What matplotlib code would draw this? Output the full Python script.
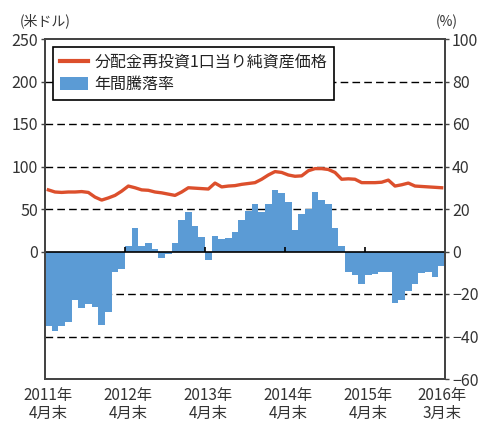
import matplotlib
matplotlib.use("Agg")
import matplotlib.pyplot as plt
from matplotlib.lines import Line2D
from matplotlib.patches import Patch
import numpy as np

plt.rcParams['font.family'] = ['Noto Sans CJK JP', 'DejaVu Sans']

# Monthly data, 2011-04 .. 2016-03 (60 months)
nav_price = [72.5, 70, 69.5, 70, 70, 70.5, 69.5, 64, 60.5, 63, 66, 71,
             77, 75, 72.5, 72, 70, 69, 67.5, 66, 70, 75, 74.5, 74,
             73.5, 80.5, 76, 77, 77.5, 79, 80, 81, 85, 90, 94, 93,
             90, 88.5, 89, 95, 97.5, 97.5, 96.5, 93, 85, 85.5, 85, 81,
             81, 81, 81.5, 84, 77, 78.5, 80.5, 77, 76.5, 76, 75.5, 75]
annual_return = [-35, -37.5, -35, -33, -23, -26.5, -24.5, -26, -34.5, -28.5, -9.5, -8,
                 2.5, 11, 2.5, 3.8, 1, -3, -1, 3.8, 15, 18.5, 12, 7,
                 -3.8, 7.5, 5.8, 6.2, 9, 15, 19, 22.5, 18.6, 22.5, 28.8, 27.6,
                 23.3, 9.9, 17.8, 20, 28, 24.4, 22.5, 11.2, 2.8, -9.8, -10.9, -15.3,
                 -10.9, -10.6, -9.8, -9.8, -24, -23, -18.4, -15.3, -10.2, -9.8, -11.8, -6.6]
xtick_idx = [0, 12, 24, 36, 48, 59]
xtick_labels = ["2011年\n4月末", "2012年\n4月末", "2013年\n4月末",
                "2014年\n4月末", "2015年\n4月末", "2016年\n3月末"]
left_ticks = [0, 50, 100, 150, 200, 250]
right_ticks = [-60, -40, -20, 0, 20, 40, 60, 80, 100]
label_line = "分配金再投資1口当り純資産価格"
label_bar = "年間騰落率"

line_color = "#dc4f2c"
bar_color = "#5b9bd5"
spine_color = "#444444"
text_color = "#333333"

fig = plt.figure(figsize=(4.87, 4.28), dpi=100)
ax = fig.add_axes([45/487, 1-379/428, 400/487, 340/428])
ax2 = ax.twinx()

x = np.arange(len(nav_price))

# right axis: bars + grid
ax2.set_ylim(-60, 100)
for v in right_ticks:
    if v in (-60, 100, 0):
        continue
    ax2.axhline(v, color="black", lw=1.0, ls=(0, (5.5, 3)), zorder=0.5)
ax2.bar(x, annual_return, width=1.0, color=bar_color, zorder=2, linewidth=0)
ax2.axhline(0, color="black", lw=1.2, zorder=3)
ax2.vlines([i - 0.5 for i in xtick_idx[1:-1]], 0, 2, color="black", lw=1.2, zorder=3)
ax2.set_yticks(right_ticks)
ax2.set_yticklabels([f"{v}".replace("-", "\u2212") for v in right_ticks])

# left axis: line
ax.set_zorder(ax2.get_zorder() + 1)
ax.patch.set_visible(False)
ax.set_ylim(-150, 250)
ax.plot(x, nav_price, color=line_color, lw=2.4, zorder=4, solid_joinstyle="round")
ax.set_yticks(left_ticks)
ax.set_xlim(-0.5, len(nav_price) - 0.5)
ax.set_xticks(xtick_idx)
ax.set_xticklabels(xtick_labels, fontsize=11, linespacing=1.05)
ax.tick_params(axis='x', length=0, pad=6, labelcolor=text_color)
ax.tick_params(axis='y', labelsize=11.5, length=3, width=1, color=spine_color, pad=2,
               labelcolor=text_color)
ax2.tick_params(axis='y', labelsize=11.5, length=3, width=1, color=spine_color, pad=2,
                labelcolor=text_color)

for a in (ax, ax2):
    for s in a.spines.values():
        s.set_color(spine_color)
        s.set_linewidth(1.3)

handles = [Line2D([0], [0], color=line_color, lw=3),
           Patch(facecolor=bar_color, edgecolor="none")]
leg = ax.legend(handles, [label_line, label_bar], loc="upper left",
                bbox_to_anchor=(0.02, 0.976), borderaxespad=0, fontsize=11.5,
                fancybox=False, framealpha=1, edgecolor="black",
                handlelength=1.75, handleheight=0.9, handletextpad=0.4,
                labelspacing=0.3, borderpad=0.45)
leg.get_frame().set_linewidth(1.2)
for t in leg.get_texts():
    t.set_color("#222222")
leg.set_zorder(10)

fig.text(45/487, 1-21/428, "(米ドル)", ha="center", va="center", fontsize=10,
         color=text_color)
fig.text(447/487, 1-22/428, "(%)", ha="center", va="center", fontsize=10,
         color=text_color)

fig.savefig("out.png", dpi=100)
